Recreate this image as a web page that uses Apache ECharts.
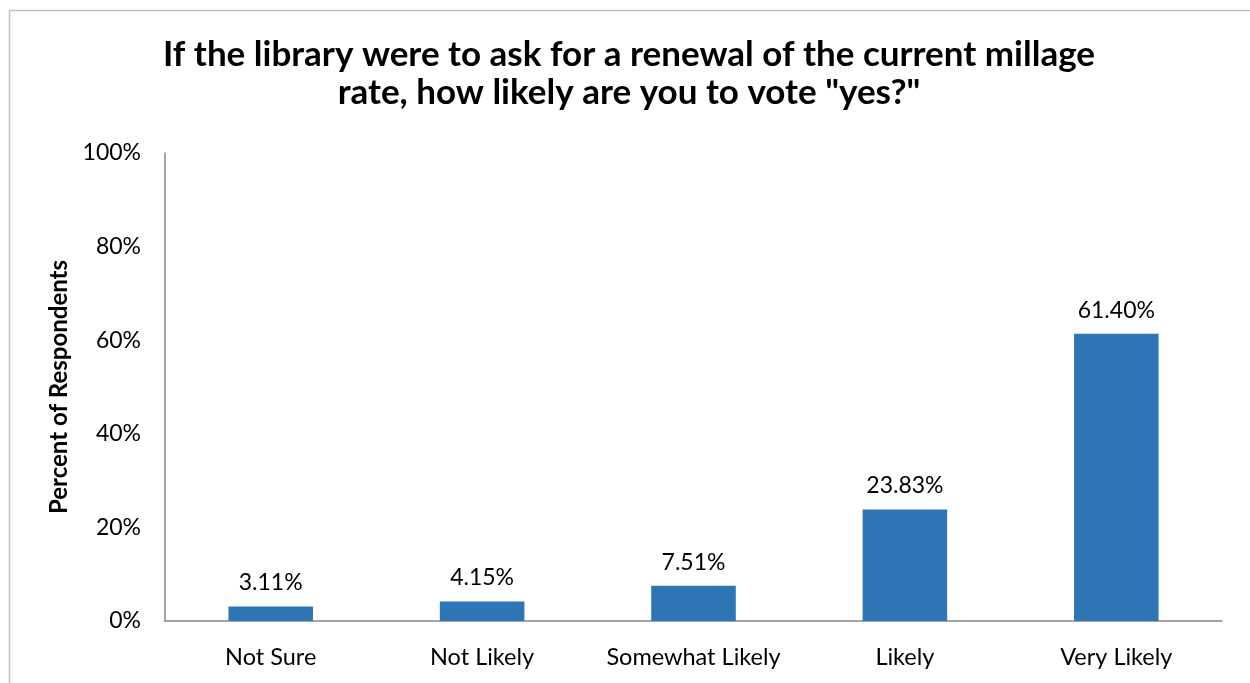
<!DOCTYPE html>
<html><head><meta charset="utf-8">
<script src="https://cdn.jsdelivr.net/npm/echarts@6/dist/echarts.min.js"></script>
<style>html,body{margin:0;padding:0;background:#fff}#c{width:1250px;height:683px}</style>
</head><body><div id="c"></div>
<script>
const categories = ["Not Sure", "Not Likely", "Somewhat Likely", "Likely", "Very Likely"];
const values = [3.11, 4.15, 7.51, 23.83, 61.40];
const yTicks = [0, 20, 40, 60, 80, 100];
const titleText = 'If the library were to ask for a renewal of the current millage\nrate, how likely are you to vote "yes?"';
const yName = "Percent of Respondents";

const FONT = "Lato";
const chart = echarts.init(document.getElementById('c'), null, {renderer: 'canvas'});
chart.setOption({
  animation: false,
  title: {
    text: titleText,
    left: 624, top: 31, textAlign: 'center',
    textStyle: {fontFamily: FONT, fontWeight: 'bold', fontSize: 35, color: '#000', lineHeight: 38}
  },
  graphic: [{
    type: 'rect', left: 7, top: 8, silent: true,
    shape: {width: 1400, height: 900},
    style: {fill: 'none', stroke: '#BFBFBF', lineWidth: 1.5}
  }],
  grid: {left: 165, right: 28, top: 153, bottom: 62, containLabel: false},
  xAxis: {
    type: 'category', data: categories,
    axisLine: {lineStyle: {color: '#868686', width: 1.5}},
    axisTick: {show: false},
    axisLabel: {fontFamily: FONT, fontSize: 23.5, color: '#000', margin: 24, interval: 0}
  },
  yAxis: {
    type: 'value', min: yTicks[0], max: yTicks[yTicks.length-1], interval: 20,
    name: yName, nameLocation: 'middle', nameGap: 91, nameRotate: 90,
    nameTextStyle: {fontFamily: FONT, fontWeight: 'bold', fontSize: 24, color: '#000'},
    axisLine: {show: true, lineStyle: {color: '#868686', width: 1.5}},
    axisTick: {show: false},
    splitLine: {show: false},
    axisLabel: {fontFamily: FONT, fontSize: 23, color: '#000', margin: 24,
      formatter: v => v + '%'}
  },
  series: [{
    type: 'bar', data: values, barWidth: '40%',
    itemStyle: {color: '#2E75B6'},
    label: {show: true, position: 'top', distance: 12, fontFamily: FONT, fontSize: 23, color: '#000',
      formatter: p => p.value.toFixed(2) + '%'}
  }]
});
</script></body></html>
